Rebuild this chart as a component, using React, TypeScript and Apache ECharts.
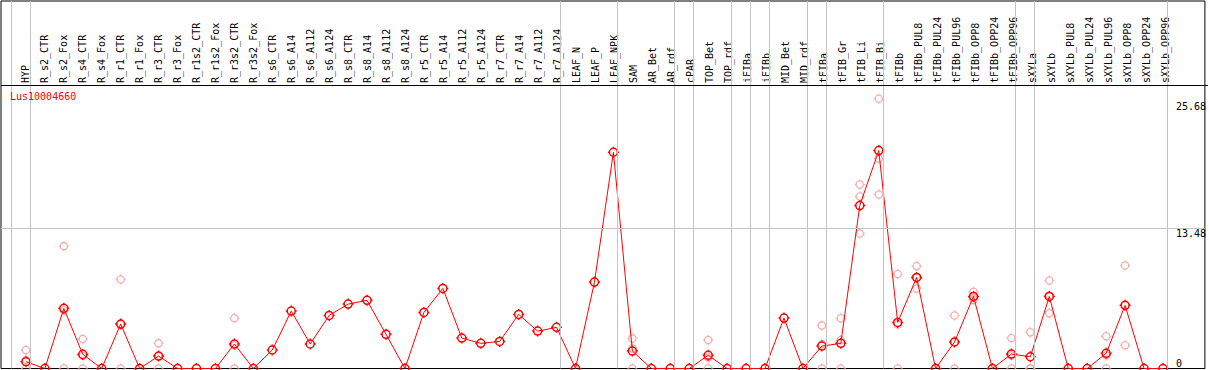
import React, { useEffect, useRef } from "react";
import * as echarts from "echarts";

const geneName = "Lus10004660";

const categories = [
  "HYP", "R_s2_CTR", "R_s2_Fox", "R_s4_CTR", "R_s4_Fox", "R_r1_CTR", "R_r1_Fox", "R_r3_CTR", "R_r3_Fox",
  "R_r1s2_CTR", "R_r1s2_Fox", "R_r3s2_CTR", "R_r3s2_Fox", "R_s6_CTR", "R_s6_A14", "R_s6_A112", "R_s6_A124",
  "R_s8_CTR", "R_s8_A14", "R_s8_A112", "R_s8_A124", "R_r5_CTR", "R_r5_A14", "R_r5_A112", "R_r5_A124",
  "R_r7_CTR", "R_r7_A14", "R_r7_A112", "R_r7_A124", "LEAF_N", "LEAF_P", "LEAF_NPK", "SAM", "AR_Bet", "AR_rdf",
  "cPAR", "TOP_Bet", "TOP_rdf", "iFIBa", "iFIBb", "MID_Bet", "MID_rdf", "tFIBa", "tFIB_Gr", "tFIB_Li", "tFIB_Bi",
  "tFIBb", "tFIBb_PUL8", "tFIBb_PUL24", "tFIBb_PUL96", "tFIBb_OPP8", "tFIBb_OPP24", "tFIBb_OPP96",
  "sXYLa", "sXYLb", "sXYLb_PUL8", "sXYLb_PUL24", "sXYLb_PUL96", "sXYLb_OPP8", "sXYLb_OPP24", "sXYLb_OPP96",
];

const meanValues = [
  0.65, 0, 5.79, 1.36, 0, 4.28, 0, 1.2, 0,
  0, 0, 2.36, 0, 1.78, 5.53, 2.36, 5.11,
  6.2, 6.56, 3.29, 0, 5.4, 7.71, 2.93, 2.42,
  2.61, 5.21, 3.6, 3.96, 0, 8.32, 20.82, 1.68, 0, 0,
  0, 1.27, 0, 0, 0, 4.86, 0, 2.16, 2.42, 15.69, 20.98,
  4.44, 8.77, 0, 2.55, 6.94, 0, 1.39,
  1.13, 6.94, 0, 0, 1.46, 6.08, 0, 0,
];

const replicateValues: number[][] = [
  [1.78, 0.82, 0], [], [11.78, 5.6, 0], [2.84, 1.24, 0], [], [8.57, 4.27, 0], [], [2.42, 1.18, 0], [],
  [], [], [4.83, 2.25, 0], [], [], [], [], [],
  [], [], [], [], [], [], [], [],
  [], [], [], [], [], [], [], [2.9, 1.94, 0], [], [],
  [], [2.74, 1.07, 0], [], [], [], [], [], [4.15, 2.33, 0], [4.83, 2.74, 0], [17.71, 16.56, 13.0], [25.98, 20.21, 16.75],
  [9.09, 4.23, 0], [9.86, 8.74, 7.71], [], [5.11, 2.54, 0], [7.39, 6.84, 6.59], [], [2.93, 1.25, 0],
  [3.48, 0, 0], [8.48, 7.03, 5.31], [], [], [3.1, 1.28, 0], [9.92, 6.09, 2.23], [], [],
];

const groupStarts = [
  "HYP", "R_s2_CTR", "LEAF_N", "SAM", "cPAR", "TOP_Bet", "iFIBa", "iFIBb", "MID_Bet",
  "tFIBa", "tFIB_Gr", "tFIBb", "sXYLa", "sXYLb",
];

const yTickLabels = [0, 13.48, 25.68];
const yGridLines = [13.48];

// layout
const W = 1209;
const H = 370;
const FONT = "'DejaVu Sans Mono', 'Liberation Mono', monospace";
const PLOT_LEFT = 1;
const PLOT_RIGHT = 1208;
const PLOT_TOP = 1;
const PLOT_BOTTOM = 368.5;
const HEADER_Y = 85.5;
const STEP = 19;
const FIRST_X = 26;
const PX_PER_UNIT = 10.386;
const SEP_OFFSET = 0.78;

const XMIN = -(FIRST_X - PLOT_LEFT) / STEP;
const XMAX = XMIN + (PLOT_RIGHT - PLOT_LEFT) / STEP;
const YMAX = (PLOT_BOTTOM - PLOT_TOP) / PX_PER_UNIT;

const MARKER =
  "path://M0,-5.5L0,-4M0,4L0,5.5M-5.5,0L-4,0M4,0L5.5,0M4,0A4,4,0,1,1,-4,0A4,4,0,1,1,4,0Z";

export default function App() {
  const ref = useRef<HTMLDivElement>(null);

  useEffect(() => {
    document.body.style.margin = "0";
    if (!ref.current) return;
    const chart = echarts.init(ref.current, undefined, { renderer: "svg" });

    const sepValues = groupStarts
      .map((n) => categories.indexOf(n))
      .concat([categories.length])
      .map((i) => i - SEP_OFFSET);

    const reps: number[][] = [];
    replicateValues.forEach((list, i) => list.forEach((v) => reps.push([i, v])));

    const labelFont = { fontFamily: FONT, fontSize: 10, color: "#000" };

    chart.setOption({
      animation: false,
      title: {
        text: geneName,
        left: 10,
        top: 91,
        padding: 0,
        textStyle: { color: "#ff0000", fontSize: 10, fontFamily: FONT, fontWeight: "normal" },
      },
      grid: [
        {
          left: PLOT_LEFT,
          top: PLOT_TOP,
          right: W - PLOT_RIGHT,
          bottom: H - PLOT_BOTTOM,
          show: true,
          borderColor: "#000",
          borderWidth: 1,
          backgroundColor: "transparent",
        },
        { left: 15.5, top: 85, width: categories.length * STEP, height: 1 },
      ],
      xAxis: [
        { type: "value", gridIndex: 0, min: XMIN, max: XMAX, show: false },
        {
          type: "category",
          gridIndex: 1,
          data: categories,
          position: "top",
          boundaryGap: true,
          axisLine: { show: false },
          axisTick: { show: false },
          splitLine: { show: false },
          axisLabel: { rotate: 90, interval: 0, margin: 2, ...labelFont },
        },
      ],
      yAxis: [
        {
          type: "value",
          gridIndex: 0,
          min: 0,
          max: YMAX,
          position: "right",
          axisLine: { show: false },
          axisTick: { show: false },
          splitLine: { show: false },
          axisLabel: {
            inside: true,
            customValues: yTickLabels.filter((v) => v > 0),
            align: "left",
            verticalAlign: "top",
            margin: 29,
            ...labelFont,
          },
        },
        {
          type: "value",
          gridIndex: 0,
          min: 0,
          max: YMAX,
          position: "right",
          axisLine: { show: false },
          axisTick: { show: false },
          splitLine: { show: false },
          axisLabel: {
            inside: true,
            customValues: yTickLabels.filter((v) => v === 0),
            align: "left",
            verticalAlign: "bottom",
            margin: 29,
            ...labelFont,
          },
        },
        { type: "value", gridIndex: 1, show: false },
      ],
      graphic: [
        {
          type: "line",
          shape: { x1: PLOT_LEFT, y1: HEADER_Y, x2: PLOT_RIGHT, y2: HEADER_Y },
          style: { stroke: "#000", lineWidth: 1 },
          z: 100,
        },
      ],
      series: [
        {
          type: "scatter",
          xAxisIndex: 0,
          yAxisIndex: 0,
          data: reps,
          symbol: MARKER,
          symbolSize: 10,
          itemStyle: { color: "rgba(0,0,0,0)", borderColor: "#f09a9a", borderWidth: 1.3 },
          clip: false,
          silent: true,
          z: 2,
          markLine: {
            silent: true,
            symbol: ["none", "none"],
            label: { show: false },
            lineStyle: { color: "#c4c4c4", width: 1, type: "solid" },
            data: [
              ...sepValues.map((v) => ({ xAxis: v })),
              ...yGridLines.map((v) => ({ yAxis: v })),
            ],
          },
        },
        {
          type: "line",
          xAxisIndex: 0,
          yAxisIndex: 0,
          data: meanValues.map((v, i) => [i, v]),
          symbol: MARKER,
          symbolSize: 11,
          lineStyle: { color: "#ff0000", width: 1 },
          itemStyle: { color: "rgba(0,0,0,0)", borderColor: "#ff0000", borderWidth: 1.5 },
          clip: false,
          silent: true,
          z: 3,
        },
      ],
    });

    return () => chart.dispose();
  }, []);

  return (
    <div
      ref={ref}
      style={{ position: "absolute", left: 0, top: 0, width: W, height: H }}
    />
  );
}
